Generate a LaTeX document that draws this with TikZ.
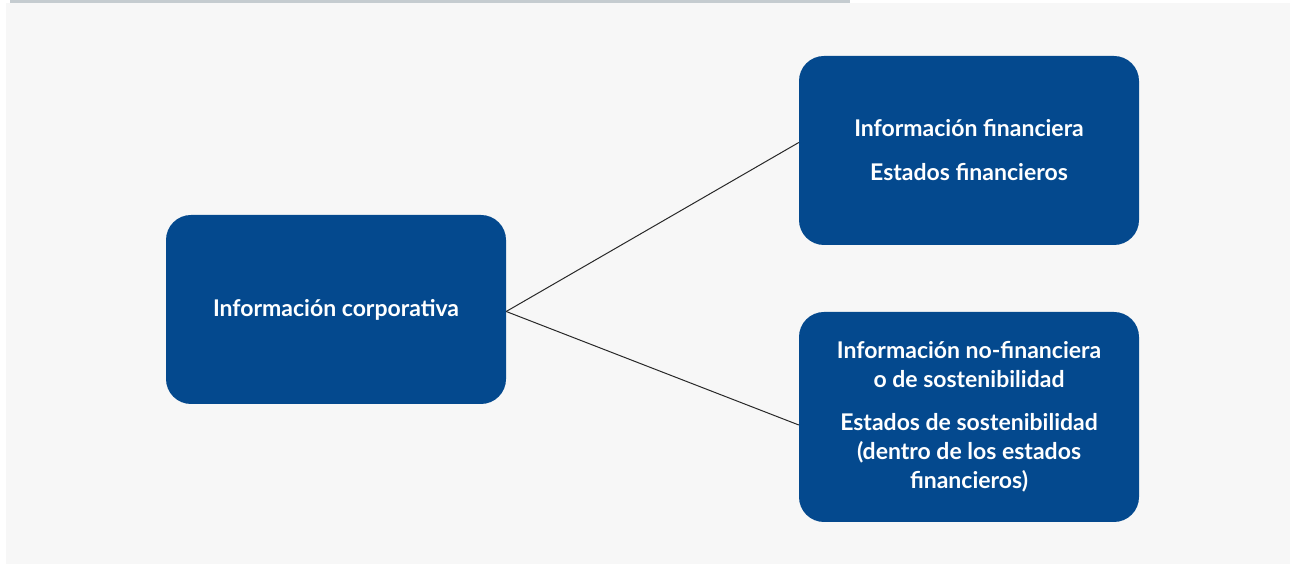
\documentclass[tikz,border=0pt]{standalone}
\usepackage{fontspec}
\setmainfont{Lato}
\usetikzlibrary{positioning}
\definecolor{InfoBlue}{RGB}{4,73,142}
\definecolor{PanelGray}{RGB}{247,247,247}
\definecolor{BarGray}{RGB}{197,204,208}
\definecolor{LinkDark}{RGB}{40,40,40}

\begin{document}
\begin{tikzpicture}[x=1pt, y=1pt,
    infobox/.style={rectangle, fill=InfoBlue, text=white,
                    rounded corners=25pt, minimum width=340pt,
                    minimum height=189pt, align=center,
                    font=\fontsize{23}{29}\selectfont\bfseries},
    link/.style={draw=LinkDark, line width=1pt}
  ]
    \useasboundingbox (0,0) rectangle (1290,564);
    \fill[white] (0,0) rectangle (1290,564);
    \fill[PanelGray] (6,0) rectangle (1290,561);
    \fill[BarGray] (10,561) rectangle (850,564);

    \node[infobox] (corp) at (336,254.5) {Información corporativa};
    \node[infobox] (fin) at (969,413.5) {Información financiera\\[15pt]Estados financieros};
    \node[infobox, minimum height=210pt] (sost) at (969,147)
      {Información no-financiera\\o de sostenibilidad\\[14pt]Estados de sostenibilidad\\(dentro de los estados\\financieros)};

    \draw[link] ([yshift=-2pt]corp.east) -- ([yshift=8pt]fin.west);
    \draw[link] ([yshift=-2pt]corp.east) -- ([yshift=-8pt]sost.west);
  \end{tikzpicture}
\end{document}
